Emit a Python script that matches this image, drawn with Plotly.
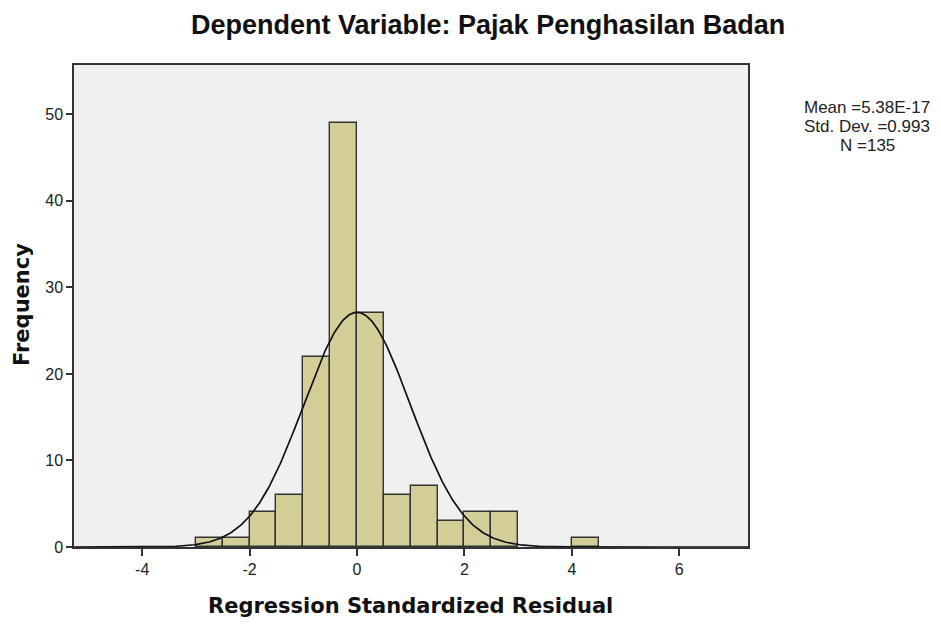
import numpy as np
import plotly.graph_objects as go

# Histogram data (bin left edges, width 0.5)
bin_left = [-3.0, -2.5, -2.0, -1.5, -1.0, -0.5, 0.0, 0.5, 1.0, 1.5, 2.0, 2.5, 4.0]
freq = [1, 1, 4, 6, 22, 49, 27, 6, 7, 3, 4, 4, 1]
bin_width = 0.5

# Reported statistics
mean_val = 5.38e-17
std_val = 0.993
n_val = 135
stats_lines = ["Mean =5.38E-17", "Std. Dev. =0.993", "N =135"]

x_ticks = [-4, -2, 0, 2, 4, 6]
y_ticks = [0, 10, 20, 30, 40, 50]

centers = [b + bin_width / 2 for b in bin_left]

# Normal curve scaled to counts
xc = np.linspace(-5.27, 7.28, 600)
yc = n_val * bin_width * np.exp(-0.5 * ((xc - mean_val) / std_val) ** 2) / (std_val * np.sqrt(2 * np.pi))

# layout geometry (figure pixels; page adds an 8px body margin)
L, T, PW, PH = 66, 57, 674, 482
W, H = 925, 611


def px(xp):
    return (xp - L) / PW


def py(yp):
    return (T + PH - yp) / PH


fig = go.Figure()
fig.add_trace(go.Bar(
    x=centers, y=freq, width=[bin_width] * len(freq),
    marker=dict(color="#D3CE97", line=dict(color="#333333", width=1.4)),
    hoverinfo="x+y", showlegend=False,
))
fig.add_trace(go.Scatter(
    x=xc, y=yc, mode="lines", line=dict(color="#111111", width=1.7),
    showlegend=False, hoverinfo="skip",
))

font_fam = "Liberation Sans, Arial, sans-serif"
title_fam = "DejaVu Sans, Verdana, sans-serif"

annotations = [
    dict(text="<b>Dependent Variable: Pajak Penghasilan Badan</b>", x=px(480), y=py(17),
         xref="paper", yref="paper", showarrow=False, xanchor="center", yanchor="middle",
         font=dict(size=27, color="#111111", family=font_fam)),
    dict(text="<b>Regression Standardized Residual</b>", x=px(402), y=py(598),
         xref="paper", yref="paper", showarrow=False, xanchor="center", yanchor="middle",
         font=dict(size=21, color="#111111", family=title_fam)),
    dict(text="<b>Frequency</b>", x=px(14), y=py(297), textangle=-90,
         xref="paper", yref="paper", showarrow=False, xanchor="center", yanchor="middle",
         font=dict(size=21, color="#111111", family=title_fam)),
]
for i, line in enumerate(stats_lines):
    annotations.append(dict(text=line, x=px(859), y=py(99 + 19 * i),
                            xref="paper", yref="paper", showarrow=False,
                            xanchor="center", yanchor="middle",
                            font=dict(size=17, color="#222222")))

fig.update_layout(
    width=W, height=H,
    margin=dict(l=L, r=W - L - PW, t=T, b=H - T - PH, pad=0),
    paper_bgcolor="white", plot_bgcolor="#F0F0F0",
    bargap=0,
    font=dict(family=font_fam, color="#222222"),
    xaxis=dict(
        range=[-5.27, 7.28], tickvals=x_ticks, ticktext=[str(v) for v in x_ticks],
        ticks="outside", ticklen=7, tickwidth=1.5, tickcolor="#333333",
        showline=True, linecolor="#333333", linewidth=1.5, mirror=True,
        showgrid=False, zeroline=False, automargin=False,
        tickfont=dict(size=16, color="#222222"),
    ),
    yaxis=dict(
        range=[0, 55.7], tickvals=y_ticks, ticktext=[str(v) for v in y_ticks],
        ticks="outside", ticklen=6, tickwidth=1.5, tickcolor="#333333",
        showline=True, linecolor="#333333", linewidth=1.5, mirror=True,
        showgrid=False, zeroline=False, automargin=False,
        tickfont=dict(size=16, color="#222222"),
    ),
    annotations=annotations,
)

fig.write_html("out.html")
